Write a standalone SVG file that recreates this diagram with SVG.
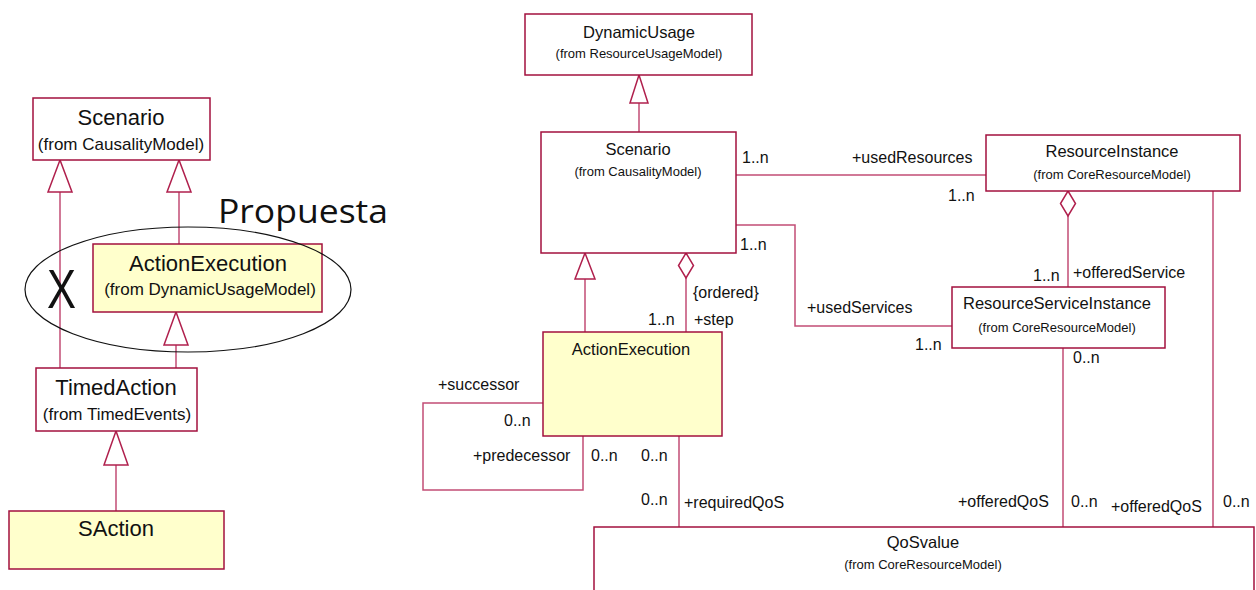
<svg xmlns="http://www.w3.org/2000/svg" width="1256" height="590" viewBox="0 0 1256 590">
<style>
.box{fill:#ffffff;stroke:#a3103e;stroke-width:1.5}
.yel{fill:#ffffcc;stroke:#a3103e;stroke-width:1.5}
.ln{fill:none;stroke:#c24d75;stroke-width:1.5}
.hd{fill:#ffffff;stroke:#b0204d;stroke-width:1.5}
text{font-family:"Liberation Sans",Arial,sans-serif;fill:#111}
.L{font-size:22px;text-anchor:middle}
.Ls{font-size:17px;text-anchor:middle}
.R{font-size:16.5px;text-anchor:middle}
.Rs{font-size:13px;text-anchor:middle}
.lb{font-size:16px}
</style>
<rect width="1256" height="590" fill="#ffffff"/>
<g id="connectors">
<line class="ln" x1="60" y1="192" x2="60" y2="368"/>
<polygon class="hd" points="60,160 48,192 72,192"/>
<line class="ln" x1="179" y1="192" x2="179" y2="244"/>
<polygon class="hd" points="179,160 167,192 191,192"/>
<line class="ln" x1="176" y1="345" x2="176" y2="368"/>
<polygon class="hd" points="176,312 164,345 188,345"/>
<line class="ln" x1="116" y1="465" x2="116" y2="511"/>
<polygon class="hd" points="116,431 104,465 128,465"/>
<line class="ln" x1="639" y1="103" x2="639" y2="132"/>
<polygon class="hd" points="639,75 630,103 648,103"/>
<line class="ln" x1="585" y1="279" x2="585" y2="332"/>
<polygon class="hd" points="585,253 575,279 595,279"/>
<line class="ln" x1="686" y1="278" x2="686" y2="332"/>
<polygon class="hd" points="686,253 693.5,265.5 686,278 678.5,265.5"/>
<line class="ln" x1="736" y1="175" x2="986" y2="175"/>
<polyline class="ln" points="736,225 795,225 795,326 952,326"/>
<line class="ln" x1="1068" y1="216" x2="1068" y2="287"/>
<polygon class="hd" points="1068,191 1075.5,203.5 1068,216 1060.5,203.5"/>
<polyline class="ln" points="543,403 423,403 423,490 583,490 583,436"/>
<line class="ln" x1="679" y1="436" x2="679" y2="527"/>
<line class="ln" x1="1063" y1="348" x2="1063" y2="527"/>
<line class="ln" x1="1213" y1="191" x2="1213" y2="527"/>
</g>
<g id="scenario-left">
<rect class="box" x="33" y="98" width="177" height="62"/>
<text class="L" x="121" y="125">Scenario</text>
<text class="Ls" x="121" y="150">(from CausalityModel)</text>
</g>
<g id="actionexecution-left">
<rect class="yel" x="93" y="244" width="229" height="68"/>
<text class="L" x="208" y="271">ActionExecution</text>
<text class="Ls" x="210" y="295">(from DynamicUsageModel)</text>
</g>
<g id="timedaction">
<rect class="box" x="36" y="368" width="161" height="63"/>
<text class="L" x="116" y="395">TimedAction</text>
<text class="Ls" x="117" y="420">(from TimedEvents)</text>
</g>
<g id="saction">
<rect class="yel" x="9" y="511" width="215" height="58"/>
<text class="L" x="116" y="536">SAction</text>
</g>
<g id="propuesta">
<ellipse cx="188" cy="289.5" rx="163" ry="62.5" fill="none" stroke="#111" stroke-width="1.2"/>
<text x="218" y="223" style="font-family:'Open Sans','DejaVu Sans',sans-serif;font-size:33px" textLength="170" lengthAdjust="spacingAndGlyphs">Propuesta</text>
<text x="47" y="308" style="font-size:56px" textLength="29" lengthAdjust="spacingAndGlyphs">X</text>
</g>
<g id="dynamicusage">
<rect class="box" x="525" y="14" width="227" height="61"/>
<text class="R" x="639" y="38">DynamicUsage</text>
<text class="Rs" x="639" y="58">(from ResourceUsageModel)</text>
</g>
<g id="scenario-right">
<rect class="box" x="541" y="132" width="195" height="121"/>
<text class="R" x="638" y="155">Scenario</text>
<text class="Rs" x="638" y="176">(from CausalityModel)</text>
</g>
<g id="actionexecution-right">
<rect class="yel" x="543" y="332" width="179" height="104"/>
<text class="R" x="631" y="355">ActionExecution</text>
</g>
<g id="resourceinstance">
<rect class="box" x="986" y="135" width="254" height="56"/>
<text class="R" x="1112" y="157">ResourceInstance</text>
<text class="Rs" x="1112" y="179">(from CoreResourceModel)</text>
</g>
<g id="resourceserviceinstance">
<rect class="box" x="952" y="287" width="213" height="61"/>
<text class="R" x="1057" y="309">ResourceServiceInstance</text>
<text class="Rs" x="1057" y="332">(from CoreResourceModel)</text>
</g>
<g id="qosvalue">
<rect class="box" x="594" y="527" width="660" height="80"/>
<text class="R" x="923" y="548">QoSvalue</text>
<text class="Rs" x="923" y="569">(from CoreResourceModel)</text>
</g>
<g id="labels" class="lb">
<text class="lb" x="742" y="163">1..n</text>
<text class="lb" x="852" y="163">+usedResources</text>
<text class="lb" x="948" y="201">1..n</text>
<text class="lb" x="740" y="250">1..n</text>
<text class="lb" x="807" y="313">+usedServices</text>
<text class="lb" x="915" y="350">1..n</text>
<text class="lb" x="1033" y="281">1..n</text>
<text class="lb" x="1073" y="278">+offeredService</text>
<text class="lb" x="1073" y="363">0..n</text>
<text class="lb" x="693" y="298">{ordered}</text>
<text class="lb" x="648" y="325">1..n</text>
<text class="lb" x="694" y="325">+step</text>
<text class="lb" x="438" y="390">+successor</text>
<text class="lb" x="504" y="426">0..n</text>
<text class="lb" x="473" y="461">+predecessor</text>
<text class="lb" x="591" y="461">0..n</text>
<text class="lb" x="641" y="461">0..n</text>
<text class="lb" x="641" y="505">0..n</text>
<text class="lb" x="684" y="508">+requiredQoS</text>
<text class="lb" x="958" y="507">+offeredQoS</text>
<text class="lb" x="1071" y="507">0..n</text>
<text class="lb" x="1111" y="512">+offeredQoS</text>
<text class="lb" x="1223" y="507">0..n</text>
</g>
</svg>
